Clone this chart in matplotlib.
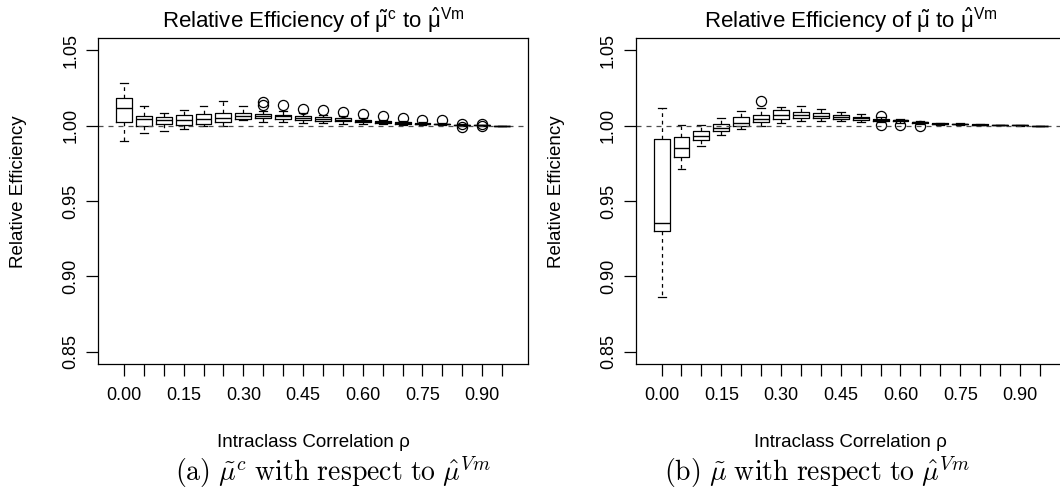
import numpy as np
import matplotlib
matplotlib.use("Agg")
import matplotlib.pyplot as plt

plt.rcParams['font.family'] = ['Liberation Sans', 'DejaVu Sans']

# Intraclass correlation values (one box per value)
rho = [0.00, 0.05, 0.10, 0.15, 0.20, 0.25, 0.30, 0.35, 0.40, 0.45,
       0.50, 0.55, 0.60, 0.65, 0.70, 0.75, 0.80, 0.85, 0.90, 0.95]

# Panel (a): mu-tilde-c vs mu-hat-Vm
a_whislo = [0.9896, 0.9952, 0.9967, 0.9980, 0.9996, 1.0000, 1.0040, 1.0022, 1.0022, 1.0018,
            1.0018, 1.0013, 1.0011, 1.0007, 1.0004, 1.0002, 1.0002, 1.0000, 0.9999, 1.0000]
a_q1 = [1.0024, 1.0000, 1.0011, 1.0004, 1.0011, 1.0022, 1.0044, 1.0048, 1.0046, 1.0040,
        1.0033, 1.0029, 1.0022, 1.0015, 1.0013, 1.0009, 1.0007, 1.0002, 1.0001, 1.0000]
a_med = [1.0117, 1.0046, 1.0035, 1.0035, 1.0046, 1.0051, 1.0062, 1.0062, 1.0062, 1.0051,
         1.0046, 1.0040, 1.0031, 1.0022, 1.0018, 1.0013, 1.0011, 1.0004, 1.0002, 1.0000]
a_q3 = [1.0180, 1.0062, 1.0057, 1.0068, 1.0077, 1.0084, 1.0084, 1.0077, 1.0073, 1.0062,
        1.0055, 1.0048, 1.0040, 1.0029, 1.0022, 1.0018, 1.0013, 1.0006, 1.0003, 1.0000]
a_whishi = [1.0282, 1.0128, 1.0084, 1.0101, 1.0128, 1.0165, 1.0128, 1.0099, 1.0095, 1.0084,
            1.0073, 1.0062, 1.0051, 1.0040, 1.0031, 1.0024, 1.0018, 1.0009, 1.0005, 1.0000]
a_fliers = [[], [], [], [], [], [], [], [1.0154, 1.0136], [1.0139], [1.0110],
            [1.0101], [1.0090], [1.0079], [1.0062], [1.0051], [1.0040], [1.0035],
            [1.0012, 0.9993], [1.0008, 0.9994], []]

# Panel (b): mu-tilde vs mu-hat-Vm
b_whislo = [0.8866, 0.9709, 0.9863, 0.9936, 0.9974, 0.9996, 1.0018, 1.0033, 1.0033, 1.0029,
            1.0024, 1.0024, 1.0018, 1.0013, 1.0006, 1.0004, 1.0002, 1.0001, 1.0000, 1.0000]
b_q1 = [0.9298, 0.9793, 0.9901, 0.9963, 0.9996, 1.0024, 1.0046, 1.0051, 1.0051, 1.0044,
        1.0037, 1.0033, 1.0029, 1.0018, 1.0010, 1.0007, 1.0004, 1.0002, 1.0001, 1.0000]
b_med = [0.9351, 0.9848, 0.9929, 0.9985, 1.0015, 1.0046, 1.0068, 1.0073, 1.0066, 1.0057,
         1.0048, 1.0040, 1.0035, 1.0022, 1.0013, 1.0009, 1.0006, 1.0003, 1.0001, 1.0000]
b_q3 = [0.9908, 0.9923, 0.9963, 1.0007, 1.0055, 1.0073, 1.0106, 1.0090, 1.0084, 1.0073,
        1.0057, 1.0046, 1.0040, 1.0026, 1.0016, 1.0011, 1.0007, 1.0004, 1.0002, 1.0000]
b_whishi = [1.0117, 1.0002, 1.0005, 1.0051, 1.0095, 1.0117, 1.0121, 1.0128, 1.0112, 1.0090,
            1.0077, 1.0055, 1.0046, 1.0031, 1.0020, 1.0014, 1.0010, 1.0006, 1.0003, 1.0000]
b_fliers = [[], [], [], [], [], [1.0161], [], [], [], [],
            [], [1.0066, 1.0003], [1.0003], [0.9998], [], [], [], [], [], []]

titles = [r'Relative Efficiency of $\tilde{\mathregular{\mu}}^{\mathregular{c}}$ to $\hat{\mathregular{\mu}}^{\mathregular{Vm}}$',
          r'Relative Efficiency of $\tilde{\mathregular{\mu}}$ to $\hat{\mathregular{\mu}}^{\mathregular{Vm}}$']
captions = [r'$\mathrm{(a)}\ \tilde{\mu}^c\ \mathrm{with\ respect\ to}\ \hat{\mu}^{Vm}$',
            r'$\mathrm{(b)}\ \tilde{\mu}\ \mathrm{with\ respect\ to}\ \hat{\mu}^{Vm}$']


def make_stats(whislo, q1, med, q3, whishi, fliers):
    return [dict(whislo=whislo[i], q1=q1[i], med=med[i], q3=q3[i],
                 whishi=whishi[i], fliers=fliers[i]) for i in range(len(med))]


panels = [make_stats(a_whislo, a_q1, a_med, a_q3, a_whishi, a_fliers),
          make_stats(b_whislo, b_q1, b_med, b_q3, b_whishi, b_fliers)]

W, H = 1060, 499
fig = plt.figure(figsize=(W / 100, H / 100), dpi=100)

lefts = [98, 635.7]
cap_x = [333, 817]
pos = np.arange(1, len(rho) + 1)

for k in range(2):
    ax = fig.add_axes([lefts[k] / W, 1 - 364 / H, 430 / W, 326 / H])
    ax.bxp(panels[k], positions=pos, widths=0.8, capwidths=0.4, manage_ticks=False,
           boxprops=dict(color='black', lw=0.9),
           medianprops=dict(color='black', lw=1.0),
           whiskerprops=dict(color='black', lw=0.9, linestyle=(0, (3, 3))),
           capprops=dict(color='black', lw=0.9),
           flierprops=dict(marker='o', markerfacecolor='none', markeredgecolor='black',
                           markersize=7.3, markeredgewidth=0.9))
    ax.axhline(1.0, color='0.3', lw=0.9, linestyle=(0, (4, 4)))

    ax.set_xlim(-0.3, len(rho) + 1.3)
    ax.set_ylim(0.842, 1.058)
    ax.set_xticks(pos)
    ax.set_xticklabels([f'{r:.2f}' if i % 3 == 0 else '' for i, r in enumerate(rho)])
    ax.set_yticks([0.85, 0.90, 0.95, 1.00, 1.05])
    ax.set_yticklabels(['0.85', '0.90', '0.95', '1.00', '1.05'])
    for lab in ax.get_yticklabels():
        lab.set_rotation(90)
        lab.set_va('center')
    ax.tick_params(axis='both', direction='out', length=8.5, width=0.9,
                   labelsize=13, color='black')
    ax.tick_params(axis='x', pad=8)
    ax.tick_params(axis='y', pad=5)
    for s in ax.spines.values():
        s.set_linewidth(0.9)

    ax.set_title(titles[k], fontsize=16, y=1.031, pad=0)
    ax.set_xlabel('Intraclass Correlation ρ', fontsize=13.5)
    ax.xaxis.set_label_coords(0.5, (364 - 434) / 326)
    ax.set_ylabel('Relative Efficiency', fontsize=13.5, va='center')
    ax.yaxis.set_label_coords(-79 / 430, 0.53)

    fig.text(cap_x[k] / W, 1 - 473 / H, captions[k], fontsize=20,
             ha='center', va='center', math_fontfamily='cm')

fig.savefig('out.png', dpi=100)
